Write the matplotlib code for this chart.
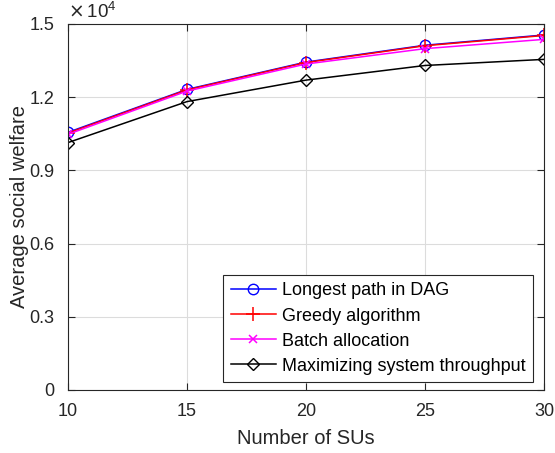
import numpy as np
import matplotlib.pyplot as plt
from matplotlib.ticker import FuncFormatter

plt.rcParams['font.family'] = ['Liberation Sans', 'DejaVu Sans']

num_sus = [10, 15, 20, 25, 30]
longest_path = [10560, 12320, 13440, 14130, 14550]
greedy = [10530, 12300, 13420, 14110, 14530]
batch = [10480, 12250, 13360, 13990, 14370]
max_throughput = [10140, 11820, 12700, 13300, 13550]

fig = plt.figure(figsize=(5.55, 4.53), dpi=100)
ax = fig.add_axes([68 / 555, 63 / 453, 476 / 555, 366 / 453])

ax.plot(num_sus, longest_path, color='#0000ff', marker='o', markersize=7.5,
        markerfacecolor='none', linewidth=1.1, label='Longest path in DAG')
ax.plot(num_sus, greedy, color='#ff0000', marker='+', markersize=10,
        markeredgewidth=1.1, linewidth=1.1, label='Greedy algorithm')
ax.plot(num_sus, batch, color='#ff00ff', marker='x', markersize=6,
        markeredgewidth=1.1, linewidth=1.1, label='Batch allocation')
ax.plot(num_sus, max_throughput, color='k', marker='D', markersize=6.5,
        markerfacecolor='none', linewidth=1.1, label='Maximizing system throughput')

ax.set_xlim(10, 30)
ax.set_ylim(0, 15000)
ax.set_xticks([10, 15, 20, 25, 30])
ax.set_yticks(np.arange(0, 15001, 3000))
ax.yaxis.set_major_formatter(FuncFormatter(lambda v, p: '0' if v == 0 else f'{v / 1e4:.1f}'))
ax.tick_params(direction='in', top=True, right=True, labelsize=13,
               length=5, width=0.8, colors='#262626', labelcolor='#262626')
ax.tick_params(axis='x', pad=9)
ax.tick_params(axis='y', pad=10)
ax.grid(True, color='#dcdcdc', linewidth=0.8)
ax.set_axisbelow(True)
for s in ax.spines.values():
    s.set_color('#262626')
    s.set_linewidth(0.8)

ax.set_xlabel('Number of SUs', fontsize=14.5, color='#262626', labelpad=7)
ax.set_ylabel('Average social welfare', fontsize=14.5, color='#262626', labelpad=0)
ax.text(0.0, 1.005, r'$\times\,\mathregular{10^4}$', transform=ax.transAxes,
        fontsize=13.5, color='#262626', ha='left', va='bottom')

leg = ax.legend(loc='lower right', bbox_to_anchor=((533 - 68) / 476, 8 / 366),
                fontsize=13, handlelength=2.5, fancybox=False, framealpha=1,
                edgecolor='#262626', borderaxespad=0, labelspacing=0.45,
                handletextpad=0.35, borderpad=0.4)
leg.get_frame().set_linewidth(0.8)

fig.savefig('out.png', dpi=100)
